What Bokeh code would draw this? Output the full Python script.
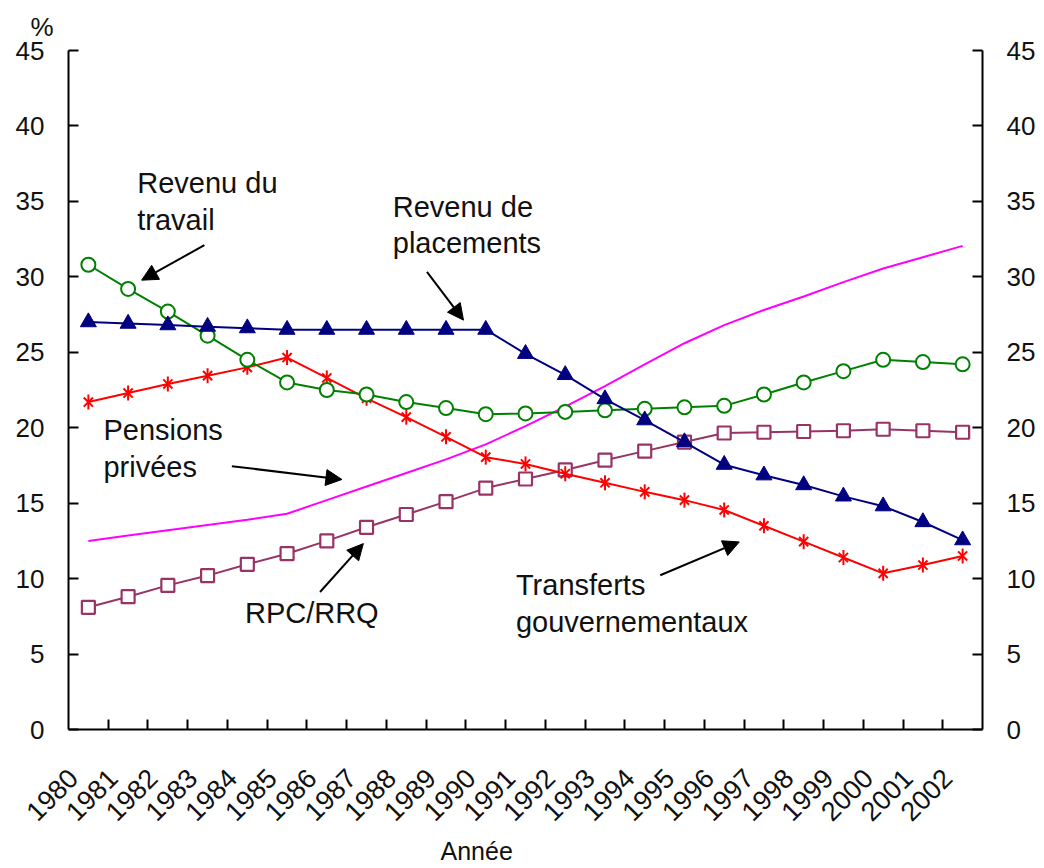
import math
from bokeh.plotting import figure
from bokeh.models import (Range1d, LinearAxis, FixedTicker, Label, Arrow, NormalHead, Title,
                          CustomJSTickFormatter)
from bokeh.embed import file_html
from bokeh.resources import INLINE

# ---------------- data ----------------
years = list(range(1980, 2003))
revenu_travail = [30.8, 29.2, 27.7, 26.1, 24.5, 23.0, 22.5, 22.2, 21.7, 21.3, 20.9, 20.95,
                  21.05, 21.15, 21.25, 21.35, 21.45, 22.2, 23.0, 23.75, 24.5, 24.35, 24.2]
revenu_placements = [27.0, 26.9, 26.8, 26.7, 26.6, 26.5, 26.5, 26.5, 26.5, 26.5, 26.5, 24.9,
                     23.5, 21.9, 20.5, 19.05, 17.55, 16.85, 16.2, 15.45, 14.8, 13.75, 12.55]
transferts = [21.7, 22.3, 22.9, 23.45, 24.0, 24.65, 23.3, 21.95, 20.7, 19.4, 18.05, 17.6,
              16.95, 16.35, 15.75, 15.2, 14.55, 13.5, 12.45, 11.4, 10.35, 10.9, 11.5]
rpc_rrq = [8.1, 8.8, 9.55, 10.2, 10.95, 11.65, 12.5, 13.4, 14.25, 15.1, 16.0, 16.6,
           17.2, 17.85, 18.45, 19.05, 19.65, 19.7, 19.75, 19.8, 19.9, 19.8, 19.7]
pensions_privees = [12.5, 12.85, 13.2, 13.55, 13.9, 14.3, 15.2, 16.1, 17.0, 17.9, 18.9, 20.1,
                    21.4, 22.75, 24.2, 25.6, 26.8, 27.8, 28.7, 29.65, 30.55, 31.3, 32.05]
y_ticks = [0, 5, 10, 15, 20, 25, 30, 35, 40, 45]

x_title = "Année"
y_unit = "%"
annotations = [
    # (lines of text, x, baseline y of first line, arrow tail, arrow head)
    (["Revenu du", "travail"], 1981.23, 36.23, (1982.92, 32.1), (1981.34, 29.78)),
    (["Revenu de", "placements"], 1987.66, 34.66, (1988.52, 30.33), (1989.44, 27.13)),
    (["Pensions", "privées"], 1980.38, 19.83, (1983.61, 17.45), (1986.38, 16.57)),
    (["RPC/RRQ"], 1983.94, 7.72, (1985.83, 9.11), (1986.92, 12.32)),
    (["Transferts", "gouvernementaux"], 1990.76, 9.55, (1994.39, 10.22), (1996.38, 12.43)),
]

FONT = "Liberation Sans"
TXT = "#111111"
GREEN = "#008000"
NAVY = "#000080"
RED = "#FF0000"
MAGENTA = "#FF00FF"
PURPLE = "#993366"

p = figure(width=1044, height=868, output_backend="svg", toolbar_location=None,
           x_range=Range1d(years[0] - 0.5, years[-1] + 0.5), y_range=Range1d(0, 45),
           min_border_left=68, min_border_right=62, min_border_top=50, min_border_bottom=139)
p.outline_line_color = None
p.grid.visible = False
p.background_fill_color = "white"
p.border_fill_color = "white"

# x axis: year labels (set slightly left of the category centre, as in the original),
# tick marks at the category boundaries
LABEL_SHIFT = 0.38
xa = p.xaxis[0]
xa.ticker = FixedTicker(ticks=[y - LABEL_SHIFT for y in years],
                        minor_ticks=[y + 0.5 for y in years[:-1]])
xa.formatter = CustomJSTickFormatter(code="return Math.round(tick).toString();")
xa.major_tick_in = 0
xa.major_tick_out = 0
xa.minor_tick_in = 10
xa.minor_tick_out = 0
xa.minor_tick_line_width = 2
xa.minor_tick_line_color = "black"
xa.axis_line_width = 2
xa.axis_line_color = "black"
xa.major_label_orientation = math.pi / 4
xa.major_label_standoff = 44
xa.major_label_text_font = FONT
xa.major_label_text_font_size = "27px"
xa.major_label_text_color = TXT

ra = LinearAxis()
p.add_layout(ra, "right")
for ax in (p.yaxis[0], ra):
    ax.ticker = FixedTicker(ticks=y_ticks)
    ax.major_tick_in = 10
    ax.major_tick_out = 0
    ax.major_tick_line_width = 2
    ax.major_tick_line_color = "black"
    ax.minor_tick_line_color = None
    ax.axis_line_width = 2
    ax.axis_line_color = "black"
    ax.major_label_standoff = 24
    ax.major_label_text_font = FONT
    ax.major_label_text_font_size = "26px"
    ax.major_label_text_color = TXT

# series
p.line(years, pensions_privees, line_color=MAGENTA, line_width=2)

p.line(years, rpc_rrq, line_color=PURPLE, line_width=2)
p.scatter(years, rpc_rrq, marker="square", size=13, fill_color="white",
          line_color=PURPLE, line_width=2.2)

p.line(years, transferts, line_color=RED, line_width=2)
p.scatter(years, transferts, marker="x", size=13, line_color=RED, line_width=2)
p.scatter(years, transferts, marker="dash", angle=math.pi / 2, size=15, line_color=RED, line_width=2)

p.line(years, revenu_travail, line_color=GREEN, line_width=2)
p.scatter(years, revenu_travail, marker="circle", size=14, fill_color="white",
          line_color=GREEN, line_width=2)

p.line(years, revenu_placements, line_color=NAVY, line_width=2)
p.scatter(years, revenu_placements, marker="triangle", size=16, fill_color=NAVY,
          line_color=NAVY, line_width=1)

# annotations
LINE_STEP = 2.45
for lines, x, y0, tail, head in annotations:
    for i, t in enumerate(lines):
        p.add_layout(Label(x=x, y=y0 - i * LINE_STEP, text=t, text_font=FONT,
                           text_font_size="29px", text_color=TXT,
                           text_baseline="alphabetic", text_align="left"))
    p.add_layout(Arrow(x_start=tail[0], y_start=tail[1], x_end=head[0], y_end=head[1],
                       line_color="black", line_width=2,
                       end=NormalHead(size=16, fill_color="black", line_color="black")))

# unit above the left axis and axis title below
p.add_layout(Title(text=y_unit, align="left", offset=-38, standoff=18,
                   text_font=FONT, text_font_size="26px", text_font_style="normal",
                   text_color=TXT), "above")
p.add_layout(Title(text=x_title, align="left", offset=372, standoff=5,
                   text_font=FONT, text_font_size="25px", text_font_style="normal",
                   text_color=TXT), "below")

open("out.html", "w").write(file_html(p, INLINE))
